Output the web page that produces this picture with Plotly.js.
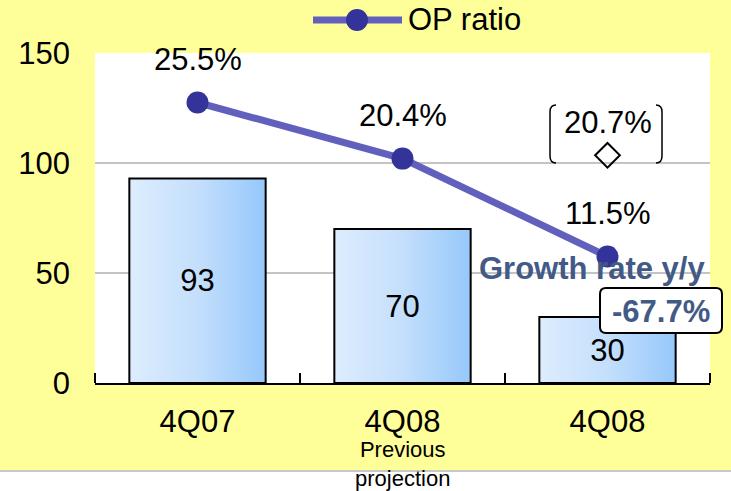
<!DOCTYPE html>
<html>
<head>
<meta charset="utf-8">
<script src="https://cdn.plot.ly/plotly-3.0.1.min.js"></script>
<style>
  html, body { margin: 0; padding: 0; background: #ffffff; }
  #chart { width: 731px; height: 491px; }
</style>
</head>
<body>
<div id="chart"></div>
<script>
// Operating profit by quarter with operating-profit ratio on a hidden secondary scale
const quarters = ['4Q07', '4Q08', '4Q08'];
const subLabels = ['', 'Previous<br>projection', ''];
const opProfit = [93, 70, 30];
const opRatio = [25.5, 20.4, 11.5];
const opRatioLabels = ['25.5%', '20.4%', '11.5%'];
const prevRatioIndex = 2;
const prevRatio = [20.7];
const prevRatioLabel = '20.7%';
const growthTitle = 'Growth rate y/y';
const growthValue = '-67.7%';
const yTicks = [0, 50, 100, 150];
const seriesName = 'OP ratio';

const xPos = quarters.map((_, i) => i);

const FONT = 'Arial, "Liberation Sans", sans-serif';
const BIG = 31;
const SMALL = 22;
const LINE_COLOR = '#6161BD';
const MARKER_COLOR = '#333399';
const SLATE = '#435A86';

// plot-area edges in page pixels, used to place decorations in paper units
const L = 95, R = 710, T = 53, B = 383;
const px = x => (x - L) / (R - L);
const py = y => (B - y) / (B - T);

function roundRect(x0, y0, x1, y1, r) {
  return 'M' + px(x0 + r) + ',' + py(y0) +
    ' L' + px(x1 - r) + ',' + py(y0) +
    ' Q' + px(x1) + ',' + py(y0) + ' ' + px(x1) + ',' + py(y0 + r) +
    ' L' + px(x1) + ',' + py(y1 - r) +
    ' Q' + px(x1) + ',' + py(y1) + ' ' + px(x1 - r) + ',' + py(y1) +
    ' L' + px(x0 + r) + ',' + py(y1) +
    ' Q' + px(x0) + ',' + py(y1) + ' ' + px(x0) + ',' + py(y1 - r) +
    ' L' + px(x0) + ',' + py(y0 + r) +
    ' Q' + px(x0) + ',' + py(y0) + ' ' + px(x0 + r) + ',' + py(y0) + ' Z';
}

function paren(xEdge, xTip, y0, y1) {
  return 'M' + px(xTip) + ',' + py(y0) +
    ' Q' + px(xEdge) + ',' + py(y0) + ' ' + px(xEdge) + ',' + py(y0 + 7) +
    ' L' + px(xEdge) + ',' + py(y1 - 7) +
    ' Q' + px(xEdge) + ',' + py(y1) + ' ' + px(xTip) + ',' + py(y1);
}

const bars = {
  type: 'bar',
  x: xPos,
  y: opProfit,
  width: 0.665,
  marker: { color: '#C2DDFB', line: { color: '#000000', width: 2 } },
  text: opProfit.map(String),
  textposition: 'inside',
  insidetextanchor: 'middle',
  constraintext: 'none',
  textfont: { family: FONT, size: BIG, color: '#000000' },
  hoverinfo: 'skip',
  showlegend: false
};

const ratioLine = {
  type: 'scatter',
  mode: 'lines+markers',
  name: seriesName,
  x: xPos,
  y: opRatio,
  yaxis: 'y2',
  line: { color: LINE_COLOR, width: 7 },
  marker: { color: MARKER_COLOR, size: 22 },
  hoverinfo: 'skip',
  showlegend: false
};

const prevPoint = {
  type: 'scatter',
  mode: 'markers',
  x: [prevRatioIndex],
  y: prevRatio,
  yaxis: 'y2',
  marker: { symbol: 'diamond-open', size: 19, color: '#000000', line: { width: 2, color: '#000000' } },
  hoverinfo: 'skip',
  showlegend: false
};

const annotations = [];
opRatio.forEach((v, i) => {
  annotations.push({
    x: i, y: v, xref: 'x', yref: 'y2', text: opRatioLabels[i],
    showarrow: false, yshift: 43, yanchor: 'middle',
    font: { family: FONT, size: BIG, color: '#000000' }
  });
});
annotations.push({
  x: prevRatioIndex, y: prevRatio[0], xref: 'x', yref: 'y2', text: prevRatioLabel,
  showarrow: false, yshift: 33, yanchor: 'middle',
  font: { family: FONT, size: BIG, color: '#000000' }
});
subLabels.forEach((s, i) => {
  if (!s) return;
  annotations.push({
    x: i, xref: 'x', y: py(435), yref: 'paper', yanchor: 'top',
    text: s, showarrow: false,
    font: { family: FONT, size: SMALL, color: '#000000' }
  });
});
annotations.push({
  x: px(592), y: py(268), xref: 'paper', yref: 'paper', text: '<b>' + growthTitle + '</b>',
  showarrow: false, xanchor: 'center', yanchor: 'middle',
  font: { family: FONT, size: BIG, color: SLATE }
});
annotations.push({
  x: px(661), y: py(311), xref: 'paper', yref: 'paper', text: '<b>' + growthValue + '</b>',
  showarrow: false, xanchor: 'center', yanchor: 'middle',
  font: { family: FONT, size: BIG, color: SLATE }
});
// legend text
annotations.push({
  x: px(406), y: py(20), xref: 'paper', yref: 'paper', text: seriesName,
  showarrow: false, xanchor: 'left', yanchor: 'middle',
  font: { family: FONT, size: BIG, color: '#000000' }
});

const shapes = [
  // white strip and rule under the chart panel
  { type: 'rect', xref: 'paper', yref: 'paper', x0: px(-5), x1: px(740), y0: py(471), y1: py(500),
    fillcolor: '#FFFFFF', line: { width: 0 }, layer: 'below' },
  { type: 'line', xref: 'paper', yref: 'paper', x0: px(-5), x1: px(740), y0: py(471), y1: py(471),
    line: { color: '#C8C8C8', width: 2 } },
  // brackets around the earlier projection
  { type: 'path', xref: 'paper', yref: 'paper', path: paren(550, 556, 105, 163),
    line: { color: '#000000', width: 1.5 } },
  { type: 'path', xref: 'paper', yref: 'paper', path: paren(662, 656, 105, 163),
    line: { color: '#000000', width: 1.5 } },
  // box behind the growth value
  { type: 'path', xref: 'paper', yref: 'paper', path: roundRect(600, 288, 722, 333, 6),
    fillcolor: '#FFFFFF', line: { color: '#000000', width: 2 } },
  // legend entry
  { type: 'line', xref: 'paper', yref: 'paper', x0: px(313), x1: px(402), y0: py(20), y1: py(20),
    line: { color: LINE_COLOR, width: 7 } },
  { type: 'circle', xref: 'paper', yref: 'paper', x0: px(346), x1: px(368), y0: py(31), y1: py(9),
    fillcolor: MARKER_COLOR, line: { width: 0 } }
];

const layout = {
  width: 731,
  height: 491,
  margin: { l: L, r: 731 - R, t: T, b: 491 - B, pad: 0 },
  paper_bgcolor: '#FFFF99',
  plot_bgcolor: '#FFFFFF',
  showlegend: false,
  bargap: 0,
  font: { family: FONT, size: BIG, color: '#000000' },
  xaxis: {
    range: [-0.5, 2.5],
    tickmode: 'array',
    tickvals: xPos,
    ticktext: quarters,
    ticks: '',
    ticklabelstandoff: 10,
    tickfont: { family: FONT, size: BIG, color: '#000000' },
    showline: true,
    linecolor: '#000000',
    linewidth: 2,
    showgrid: false,
    zeroline: false,
    fixedrange: true,
    minor: {
      tickmode: 'array',
      tickvals: xPos.concat([xPos.length]).map(v => v - 0.5),
      ticks: 'inside',
      ticklen: 10,
      tickwidth: 2,
      tickcolor: '#000000',
      showgrid: false
    }
  },
  yaxis: {
    range: [0, 150],
    tickmode: 'array',
    tickvals: yTicks,
    ticktext: yTicks.map(String),
    ticks: '',
    ticklabelstandoff: 24,
    tickfont: { family: FONT, size: BIG, color: '#000000' },
    showgrid: true,
    gridcolor: '#C4C4C4',
    gridwidth: 2,
    zeroline: false,
    showline: false,
    fixedrange: true
  },
  yaxis2: {
    overlaying: 'y',
    side: 'right',
    range: [0, 30],
    visible: false,
    showgrid: false,
    fixedrange: true
  },
  shapes: shapes,
  annotations: annotations
};

// horizontal light-to-deep blue fill for the bars
function applyBarGradient(gd) {
  const svg = gd.querySelector('.main-svg');
  if (!svg) return;
  let defs = svg.querySelector('defs');
  if (!defs) {
    defs = document.createElementNS('http://www.w3.org/2000/svg', 'defs');
    svg.insertBefore(defs, svg.firstChild);
  }
  if (!defs.querySelector('#barBlue')) {
    const g = document.createElementNS('http://www.w3.org/2000/svg', 'linearGradient');
    g.setAttribute('id', 'barBlue');
    g.setAttribute('x1', '0'); g.setAttribute('y1', '0');
    g.setAttribute('x2', '1'); g.setAttribute('y2', '0');
    [['0', '#DDEDFE'], ['0.5', '#C4DFFC'], ['1', '#96C8FB']].forEach(([o, c]) => {
      const s = document.createElementNS('http://www.w3.org/2000/svg', 'stop');
      s.setAttribute('offset', o);
      s.setAttribute('stop-color', c);
      g.appendChild(s);
    });
    defs.appendChild(g);
  }
  gd.querySelectorAll('.barlayer .point path').forEach(p => {
    p.style.fill = 'url(#barBlue)';
  });
}

const gd = document.getElementById('chart');
Plotly.newPlot(gd, [bars, ratioLine, prevPoint], layout, { displayModeBar: false, staticPlot: true })
  .then(() => {
    applyBarGradient(gd);
    gd.on('plotly_afterplot', () => applyBarGradient(gd));
  });
</script>
</body>
</html>
